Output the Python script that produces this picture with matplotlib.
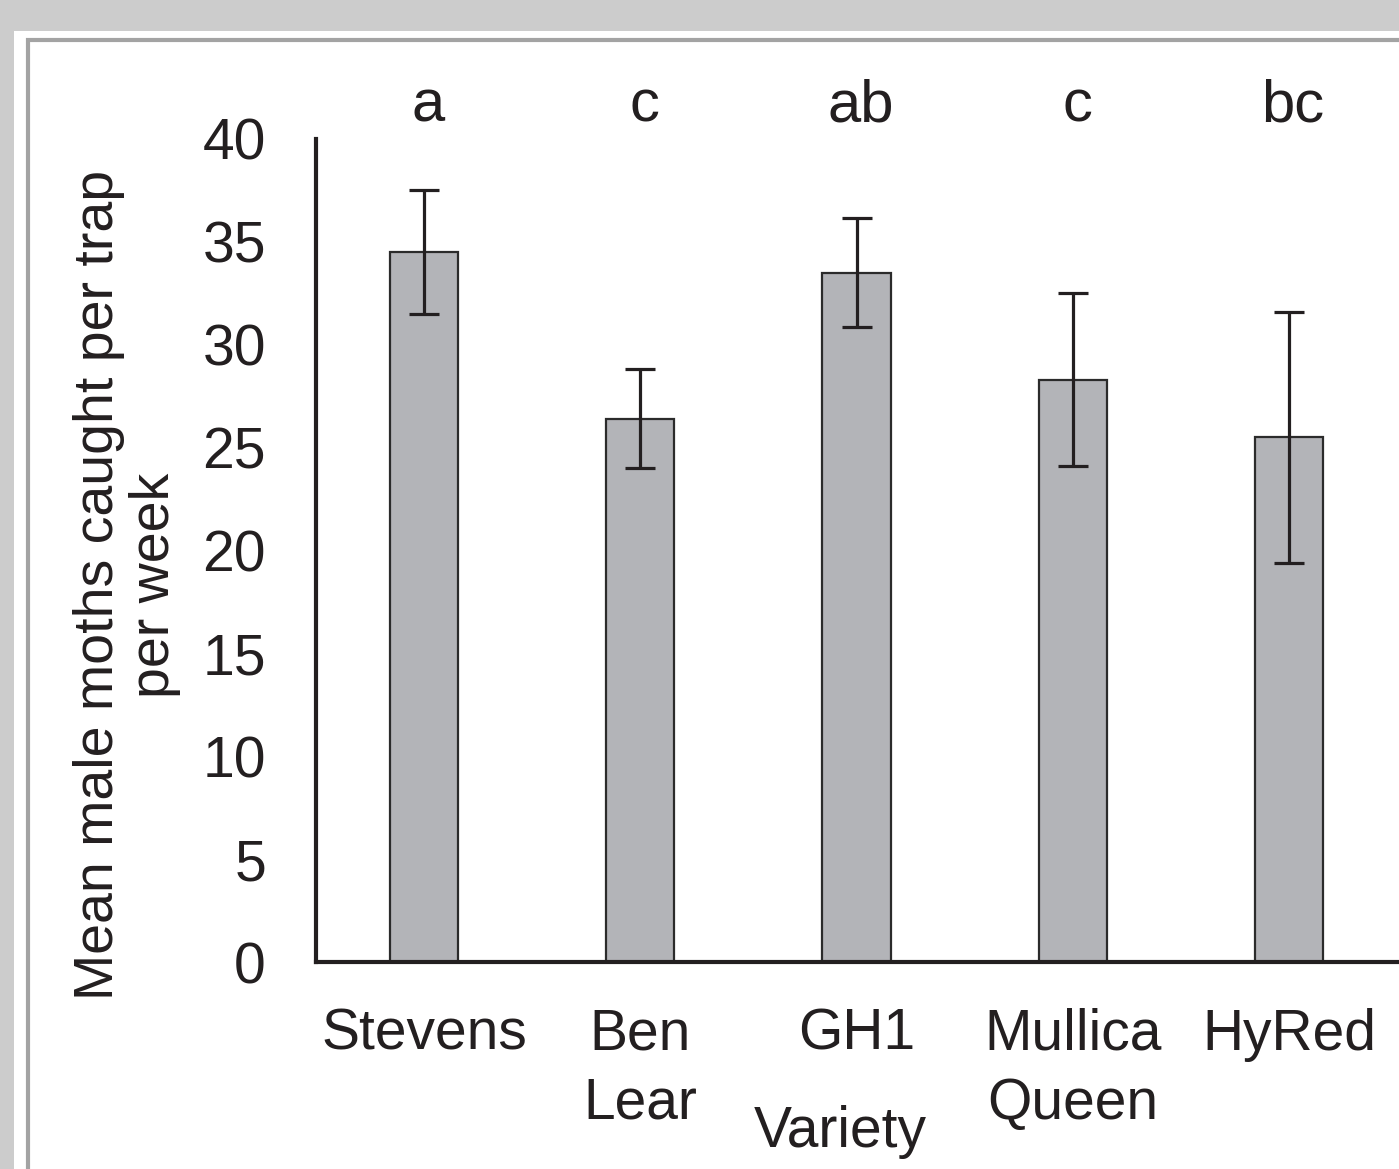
import matplotlib
matplotlib.use('Agg')
import matplotlib.pyplot as plt
from matplotlib.patches import Rectangle

varieties = ['Stevens', 'Ben\nLear', 'GH1', 'Mullica\nQueen', 'HyRed']
means = [34.5, 26.4, 33.5, 28.3, 25.5]
errors = [3.0, 2.4, 2.65, 4.2, 6.1]
letters = ['a', 'c', 'ab', 'c', 'bc']
yticks = [0, 5, 10, 15, 20, 25, 30, 35, 40]

W, H = 1399, 1169
plt.rcParams['font.family'] = ['Liberation Sans', 'DejaVu Sans']

fig = plt.figure(figsize=(W / 100, H / 100), dpi=100, facecolor='#cccccc')

# white page and its grey frame, kept behind the axes
fig.patches.append(Rectangle((14 / W, 0), 1, 1 - 31 / H, transform=fig.transFigure,
                             facecolor='white', edgecolor='none', zorder=-2))
fig.patches.append(Rectangle((27.5 / W, -0.1), 1, 1.1 - 40 / H, transform=fig.transFigure,
                             facecolor='none', edgecolor='#a3a3a3', linewidth=3, zorder=-1))

ax = fig.add_axes([316 / W, 1 - 962 / H, (1397 - 316) / W, (962 - 139) / H])
ax.set_facecolor('none')

x = list(range(len(varieties)))
ax.bar(x, means, width=0.315, color='#b3b4b8', edgecolor='#2b2b2b', linewidth=1.6, zorder=2)
ax.errorbar(x, means, yerr=errors, fmt='none', ecolor='#231f20', elinewidth=2.3,
            capsize=10.5, capthick=2.3, zorder=3)

# significance letters above the bars
for xi, lab in zip(x, letters):
    ax.text(xi + 0.02, 41.6, lab, ha='center', va='center', fontsize=43,
            color='#231f20', clip_on=False)

ax.set_xlim(-0.5, 4.5)
ax.set_ylim(0, 40)
ax.set_yticks(yticks)
ax.set_xticks(x)
ax.set_xticklabels(varieties, fontsize=41, color='#231f20', linespacing=1.35)
ax.tick_params(axis='y', length=0, pad=36, labelsize=41, labelcolor='#231f20')
ax.tick_params(axis='x', length=0, pad=33)
for s in ['top', 'right']:
    ax.spines[s].set_visible(False)
for s in ['left', 'bottom']:
    ax.spines[s].set_linewidth(3)
    ax.spines[s].set_color('#231f20')

fig.text(840 / W, 1 - 1132 / H, 'Variety', ha='center', va='center', fontsize=41, color='#231f20')
fig.text(127 / W, 1 - 585 / H, 'Mean male moths caught per trap\nper week', rotation=90,
         ha='center', va='center', multialignment='center', fontsize=40,
         color='#231f20', linespacing=1.12)

fig.savefig('out.png', dpi=100, facecolor=fig.get_facecolor())
